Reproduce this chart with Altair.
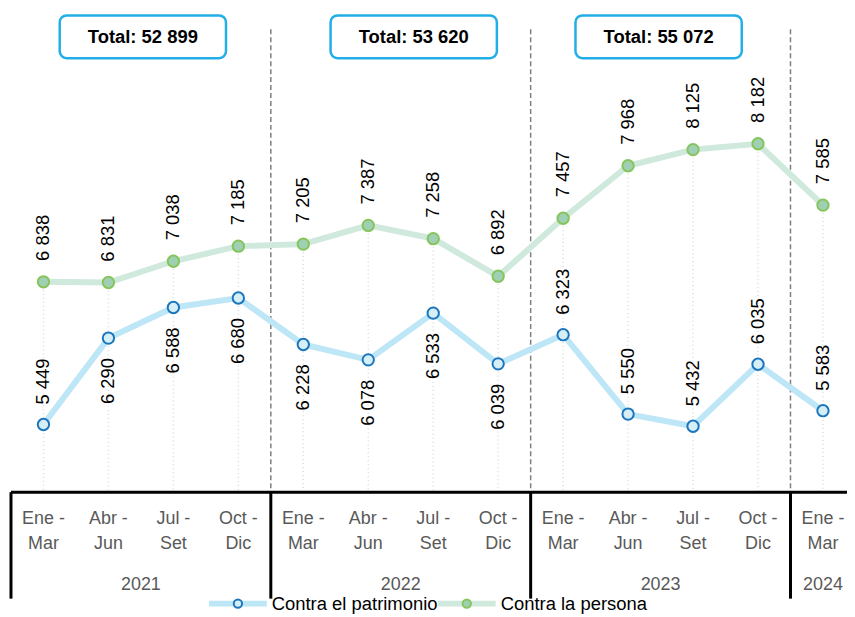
import altair as alt
import pandas as pd

# ---------------- data ----------------
q_line1 = ["Ene -", "Abr -", "Jul -", "Oct -"] * 3 + ["Ene -"]
q_line2 = ["Mar", "Jun", "Set", "Dic"] * 3 + ["Mar"]
years = ["2021"] * 4 + ["2022"] * 4 + ["2023"] * 4 + ["2024"]
patrimonio = [5449, 6290, 6588, 6680, 6228, 6078, 6533, 6039, 6323, 5550, 5432, 6035, 5583]
persona = [6838, 6831, 7038, 7185, 7205, 7387, 7258, 6892, 7457, 7968, 8125, 8182, 7585]
pat_label_above = [True, False, False, False, False, False, False, False, True, True, True, True, True]
total_years = ["2021", "2022", "2023"]

series_names = ["Contra el patrimonio", "Contra la persona"]

# ---------------- layout constants ----------------
FONT = "Liberation Sans"
PAT_LINE, PAT_FILL, PAT_STROKE = "#bde6f7", "#d6eef6", "#1b76bd"
PER_LINE, PER_FILL, PER_STROKE = "#cfe9dc", "#9fd0b3", "#86c55c"
BOX_CENTERS = [1.53, 5.70, 9.47]
BOX_HALF = 1.28


def fmt(v):
    return f"{v:,}".replace(",", " ")


n = len(persona)
df = pd.DataFrame({
    "i": list(range(n)),
    "l1": q_line1,
    "l2": q_line2,
    "year": years,
    "pat": patrimonio,
    "per": persona,
    "pat_txt": [fmt(v) for v in patrimonio],
    "per_txt": [fmt(v) for v in persona],
    "above": pat_label_above,
})

totals = []
for k, y in enumerate(total_years):
    sub = df[df["year"] == y]
    t = int(sub["pat"].sum() + sub["per"].sum())
    totals.append({"c": BOX_CENTERS[k], "x0": BOX_CENTERS[k] - BOX_HALF,
                   "x1": BOX_CENTERS[k] + BOX_HALF, "txt": "Total: " + fmt(t)})
df_tot = pd.DataFrame(totals)

x_scale = alt.Scale(domain=[-0.5, 12.37], nice=False, zero=False)
y_scale = alt.Scale(domain=[4790, 9490], nice=False, zero=False)


def X(field):
    return alt.X(field, type="quantitative", scale=x_scale, axis=None)


def Y(field):
    return alt.Y(field, type="quantitative", scale=y_scale, axis=None)


base = alt.Chart(df)

drop = base.mark_rule(color="#dcdcdc", strokeDash=[1, 3], strokeWidth=1.5).encode(
    x=X("i"), y=Y("per"), y2=alt.value(485))

sep_df = pd.DataFrame({"s": [3.5, 7.5, 11.5]})
seps = alt.Chart(sep_df).mark_rule(color="#7f7f7f", strokeDash=[5, 3], strokeWidth=1.5).encode(
    x=X("s"), y=alt.value(20), y2=alt.value(485))

line_pat = base.mark_line(color=PAT_LINE, strokeWidth=6).encode(x=X("i"), y=Y("pat"))
line_per = base.mark_line(color=PER_LINE, strokeWidth=6).encode(x=X("i"), y=Y("per"))

pt_pat = base.mark_circle(size=130, fill=PAT_FILL, stroke=PAT_STROKE, strokeWidth=2, opacity=1).encode(
    x=X("i"), y=Y("pat"))
pt_per = base.mark_circle(size=130, fill=PER_FILL, stroke=PER_STROKE, strokeWidth=2, opacity=1).encode(
    x=X("i"), y=Y("per"))

lab_kw = dict(font=FONT, fontSize=18.5, color="#000000", angle=270, baseline="middle")
lab_per = base.mark_text(align="left", dx=21, **lab_kw).encode(x=X("i"), y=Y("per"), text="per_txt")
lab_pat_up = base.transform_filter("datum.above").mark_text(align="left", dx=20, **lab_kw).encode(
    x=X("i"), y=Y("pat"), text="pat_txt")
lab_pat_dn = base.transform_filter("!datum.above").mark_text(align="right", dx=-20, **lab_kw).encode(
    x=X("i"), y=Y("pat"), text="pat_txt")

# axis box
hline_df = pd.DataFrame({"a": [-0.5], "b": [12.37]})
hline = alt.Chart(hline_df).mark_rule(color="#000000", strokeWidth=3).encode(
    x=X("a"), x2="b:Q", y=alt.value(485))
vline_df = pd.DataFrame({"s": [-0.5, 3.5, 7.5, 11.5]})
vlines = alt.Chart(vline_df).mark_rule(color="#000000", strokeWidth=3).encode(
    x=X("s"), y=alt.value(485), y2=alt.value(592))

ax_kw = dict(font=FONT, fontSize=18, color="#595959", baseline="middle")
q1 = base.mark_text(**ax_kw).encode(x=X("i"), y=alt.value(512), text="l1")
q2 = base.mark_text(**ax_kw).encode(x=X("i"), y=alt.value(537), text="l2")
yr = base.transform_aggregate(c="mean(i)", groupby=["year"]).mark_text(**ax_kw).encode(
    x=X("c"), y=alt.value(578), text="year:N")

# total boxes
box = alt.Chart(df_tot).mark_rect(fill="white", stroke="#22aee6", strokeWidth=2.5, cornerRadius=7).encode(
    x=X("x0"), x2="x1:Q", y=alt.value(6), y2=alt.value(49))
box_txt = alt.Chart(df_tot).mark_text(font=FONT, fontSize=18.5, fontWeight="bold", color="#000000",
                                      baseline="middle").encode(x=X("c"), y=alt.value(28), text="txt")

# legend
leg_df = pd.DataFrame({"name": series_names})


def legend_item(k, x0, line_c, fill_c, stroke_c):
    d = alt.Chart(leg_df).transform_filter(f"datum.name == '{series_names[k]}'")
    ln = d.mark_rule(color=line_c, strokeWidth=6).encode(
        x=alt.value(x0), x2=alt.value(x0 + 58), y=alt.value(597))
    pt = d.mark_circle(size=70, fill=fill_c, stroke=stroke_c, strokeWidth=2, opacity=1).encode(
        x=alt.value(x0 + 29), y=alt.value(597))
    tx = d.mark_text(font=FONT, fontSize=18.5, color="#000000", align="left", baseline="middle").encode(
        x=alt.value(x0 + 63), y=alt.value(597), text="name:N")
    return [ln, pt, tx]


legend_layers = legend_item(0, 199, PAT_LINE, PAT_FILL, PAT_STROKE) + \
    legend_item(1, 429, PER_LINE, PER_FILL, PER_STROKE)

chart = alt.layer(
    drop, seps, line_per, line_pat, pt_per, pt_pat,
    lab_per, lab_pat_up, lab_pat_dn,
    hline, vlines, q1, q2, yr, box, box_txt,
    *legend_layers
).properties(
    width=840, height=485,
    autosize=alt.AutoSizeParams(type="none"),
    padding={"left": 3, "top": 0, "right": 0, "bottom": 124},
).configure_view(stroke=None)

chart.save("out.html", embed_options={"renderer": "svg", "actions": False})
